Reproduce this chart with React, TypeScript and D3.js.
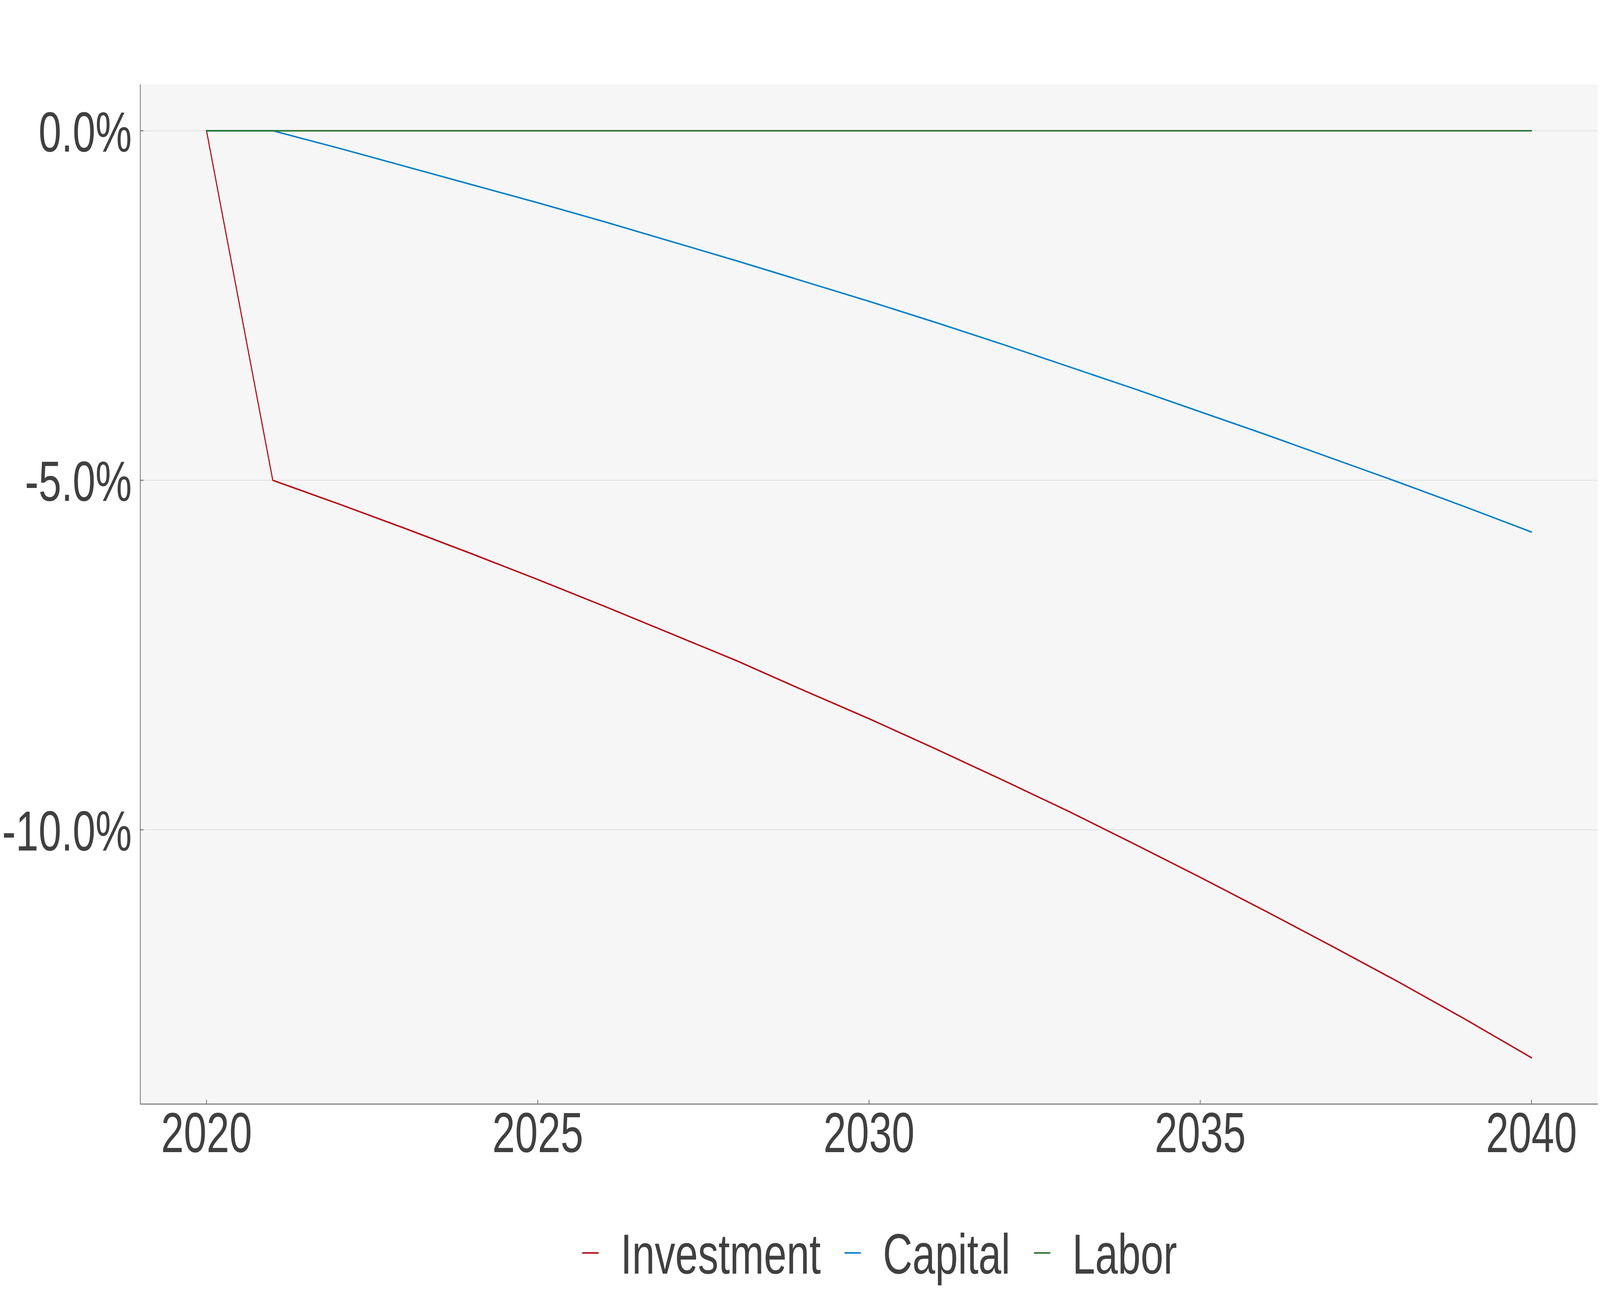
import React from 'react';
import * as d3 from 'd3';

const years = [2020, 2021, 2022, 2023, 2024, 2025, 2026, 2027, 2028, 2029, 2030,
  2031, 2032, 2033, 2034, 2035, 2036, 2037, 2038, 2039, 2040];
const investment = [0, -5.0, -5.34, -5.69, -6.05, -6.42, -6.8, -7.19, -7.58, -8.0, -8.41,
  -8.84, -9.28, -9.73, -10.2, -10.68, -11.17, -11.67, -12.18, -12.71, -13.26];
const capital = [0, 0, -0.25, -0.51, -0.77, -1.03, -1.3, -1.58, -1.86, -2.15, -2.44,
  -2.74, -3.05, -3.37, -3.69, -4.02, -4.35, -4.69, -5.03, -5.38, -5.74];
const labor = [0, 0, 0, 0, 0, 0, 0, 0, 0, 0, 0, 0, 0, 0, 0, 0, 0, 0, 0, 0, 0];

const seriesNames = ['Investment', 'Capital', 'Labor'];
const seriesColors = ['#B5121B', '#0A80C6', '#2E7536'];
const xTicks = [2020, 2025, 2030, 2035, 2040];
const yTicks = [0, -5, -10];

// design size of the reference; the svg is stretched onto the window
const W = 5669;
const H = 3307;
const panel = { left: 497, right: 5661, top: 216, bottom: 2826 };
const FONT = '"Liberation Sans", Arial, sans-serif';
const FS = 145;
const TEXT = '#404040';
const AXIS = '#7F7F7F';

export default function App() {
  const series = [investment, capital, labor];

  // ggplot-like 5% expansion on both axes
  const xExt = d3.extent(years) as [number, number];
  const xPad = (xExt[1] - xExt[0]) * 0.05;
  const yExt = d3.extent(series.flat()) as [number, number];
  const yPad = (yExt[1] - yExt[0]) * 0.05;

  const x = d3.scaleLinear()
    .domain([xExt[0] - xPad, xExt[1] + xPad])
    .range([panel.left, panel.right]);
  const y = d3.scaleLinear()
    .domain([yExt[0] - yPad, yExt[1] + yPad])
    .range([panel.bottom, panel.top]);

  const line = d3.line<number>()
    .x((_, i) => x(years[i]))
    .y(v => y(v));

  const textRefs = React.useRef<(SVGTextElement | null)[]>([]);
  const [widths, setWidths] = React.useState<number[]>([709, 451, 370]);

  React.useLayoutEffect(() => {
    document.body.style.margin = '0';
    document.body.style.overflow = 'hidden';
    setWidths(textRefs.current.map(t => (t ? t.getComputedTextLength() : 0)));
  }, []);

  // legend layout
  const keyW = 58;
  const keyGap = 78;
  const itemGap = 84;
  const legendY = 3207;
  let cursor = 2063;
  const legendItems = seriesNames.map((name, i) => {
    const item = { name, color: seriesColors[i], x: cursor };
    cursor += keyW + keyGap + widths[i] + itemGap;
    return item;
  });

  return (
    <svg
      viewBox={`0 0 ${W} ${H}`}
      preserveAspectRatio="none"
      style={{ position: 'fixed', left: 0, top: 0, width: '100vw', height: '100vh', display: 'block', background: '#fff' }}
    >
      <rect
        x={panel.left}
        y={panel.top}
        width={panel.right - panel.left}
        height={panel.bottom - panel.top}
        fill="#F6F6F6"
      />
      {yTicks.map(t => (
        <line key={'g' + t} x1={panel.left} x2={panel.right} y1={y(t)} y2={y(t)}
          stroke="#D6D6D6" strokeWidth={1.5} />
      ))}

      {series.map((vals, i) => (
        <path
          key={seriesNames[i]}
          d={line(vals) || ''}
          fill="none"
          stroke={seriesColors[i]}
          strokeWidth={4}
          strokeLinejoin="round"
          strokeLinecap="round"
        />
      ))}

      <line x1={panel.left} x2={panel.left} y1={panel.top} y2={panel.bottom} stroke={AXIS} strokeWidth={3} />
      <line x1={panel.left} x2={panel.right} y1={panel.bottom} y2={panel.bottom} stroke={AXIS} strokeWidth={3} />

      {yTicks.map(t => (
        <g key={'y' + t}>
          <line x1={panel.left} x2={panel.left + 11} y1={y(t)} y2={y(t)} stroke={AXIS} strokeWidth={3} />
          <text x={panel.left - 30} y={y(t) + 53} textAnchor="end"
            fontFamily={FONT} fontSize={FS} fill={TEXT}>
            {t.toFixed(1) + '%'}
          </text>
        </g>
      ))}

      {xTicks.map(t => (
        <g key={'x' + t}>
          <line x1={x(t)} x2={x(t)} y1={panel.bottom} y2={panel.bottom - 11} stroke={AXIS} strokeWidth={3} />
          <text x={x(t)} y={2949} textAnchor="middle"
            fontFamily={FONT} fontSize={FS} fill={TEXT}>
            {t}
          </text>
        </g>
      ))}

      {legendItems.map((it, i) => (
        <g key={'l' + it.name}>
          <line x1={it.x} x2={it.x + keyW} y1={legendY} y2={legendY}
            stroke={it.color} strokeWidth={4} />
          <text
            ref={el => { textRefs.current[i] = el; }}
            x={it.x + keyW + keyGap}
            y={legendY + 53}
            fontFamily={FONT}
            fontSize={FS}
            fill={TEXT}
          >
            {it.name}
          </text>
        </g>
      ))}
    </svg>
  );
}
